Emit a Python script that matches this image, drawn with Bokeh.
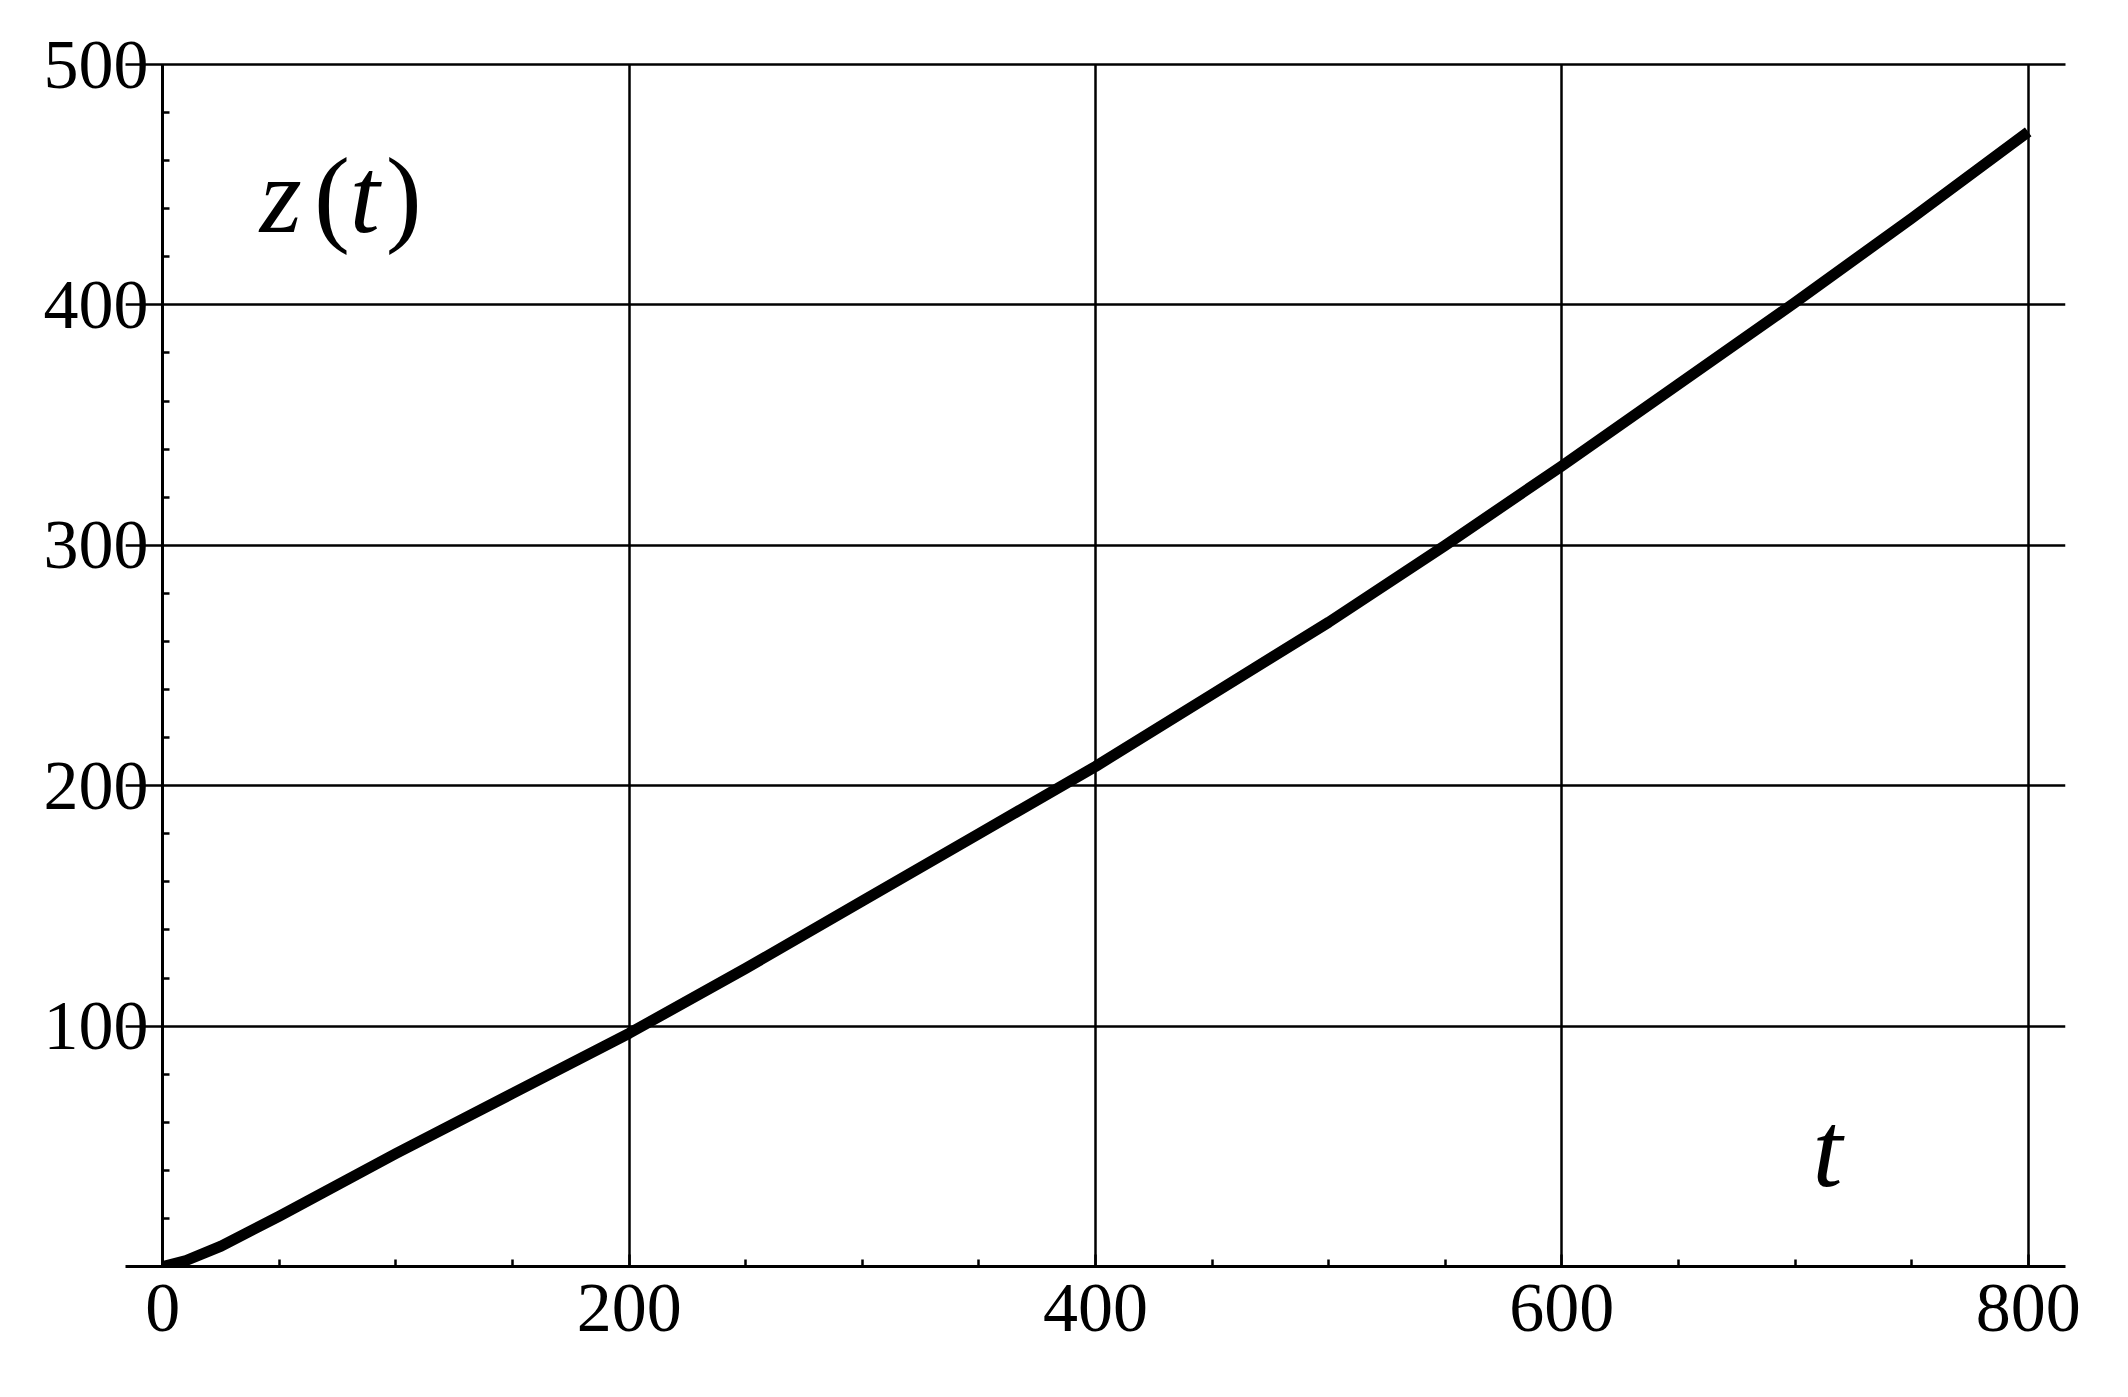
from bokeh.plotting import figure
from bokeh.models import FixedTicker, Label, ColumnDataSource, LinearAxis
from bokeh.embed import file_html
from bokeh.resources import INLINE

# ---- data ----
t_values = [0, 10, 25, 50, 100, 150, 200, 250, 300, 350, 400, 450, 500, 550, 600, 650, 700, 750, 800]
z_values = [0, 2.5, 8.5, 21, 47, 72, 97, 124, 152, 180, 208, 238, 268, 300, 333, 367, 401, 436, 472]

x_major_ticks = [0, 200, 400, 600, 800]
x_minor_ticks = [50, 100, 150, 250, 300, 350, 450, 500, 550, 650, 700, 750]
y_major_ticks = [100, 200, 300, 400, 500]
y_minor_ticks = [20, 40, 60, 80, 120, 140, 160, 180, 220, 240, 260, 280,
                 320, 340, 360, 380, 420, 440, 460, 480]

FONT = "Liberation Serif"
TICK_FS = "70px"

p = figure(
    frame_width=1940, frame_height=1202,
    min_border_left=125, min_border_right=50,
    min_border_top=64, min_border_bottom=120,
    x_range=(-16, 816), y_range=(0, 500),
    output_backend="svg", toolbar_location=None,
    background_fill_color="white", border_fill_color="white",
)
p.outline_line_color = None


def style_ticks(ax):
    ax.axis_line_color = "black"
    ax.axis_line_width = 3
    ax.major_tick_line_color = "black"
    ax.minor_tick_line_color = "black"
    ax.major_tick_line_width = 2.5
    ax.minor_tick_line_width = 2.5
    ax.major_tick_in = 12
    ax.major_tick_out = 0
    ax.minor_tick_in = 7
    ax.minor_tick_out = 0


# x axis (bottom of frame is z = 0)
xax = p.xaxis[0]
style_ticks(xax)
xax.ticker = FixedTicker(ticks=x_major_ticks, minor_ticks=x_minor_ticks)
xax.major_label_text_font = FONT
xax.major_label_text_font_size = TICK_FS
xax.major_label_text_color = "black"
xax.major_label_standoff = 18

# default left axis: labels only, placed just left of the t = 0 line
ylab = p.yaxis[0]
ylab.ticker = FixedTicker(ticks=y_major_ticks)
ylab.axis_line_color = None
ylab.major_tick_line_color = None
ylab.minor_tick_line_color = None
ylab.major_tick_in = 0
ylab.major_tick_out = 0
ylab.minor_tick_in = 0
ylab.minor_tick_out = 0
ylab.major_label_text_font = FONT
ylab.major_label_text_font_size = TICK_FS
ylab.major_label_text_color = "black"
ylab.major_label_standoff = -23

# y axis line and minor ticks drawn at t = 0 (major marks are the grid lines)
yax = LinearAxis(fixed_location=0,
                 ticker=FixedTicker(ticks=[], minor_ticks=y_minor_ticks),
                 major_label_standoff=0)
style_ticks(yax)
p.add_layout(yax, "left")

# top line at z = 500 (full width)
top = LinearAxis(ticker=FixedTicker(ticks=[]),
                 major_tick_in=0, major_tick_out=0, minor_tick_in=0, minor_tick_out=0,
                 axis_line_color="black", axis_line_width=2.5, major_label_standoff=0)
p.add_layout(top, "above")

# grid
p.xgrid.ticker = FixedTicker(ticks=x_major_ticks[1:])
p.ygrid.ticker = FixedTicker(ticks=y_major_ticks)
for g in (p.xgrid[0], p.ygrid[0]):
    g.grid_line_color = "black"
    g.grid_line_width = 2.5
    g.grid_line_alpha = 1.0

src = ColumnDataSource(data=dict(t=t_values, z=z_values))
p.line("t", "z", source=src, line_color="black", line_width=11,
       line_join="round", line_cap="butt")

# labels z(t) and t
parts = [("z", 41.6, "italic"), ("(", 64.8, "normal"), ("t", 80.2, "italic"), (")", 95.6, "normal")]
for txt, xx, style in parts:
    p.add_layout(Label(x=xx, y=445.3, text=txt, text_font=FONT, text_font_size="108px",
                       text_font_style=style, text_color="black",
                       text_align="left", text_baseline="alphabetic"))
p.add_layout(Label(x=707.5, y=48.6, text="t", text_font=FONT, text_font_size="108px",
                   text_font_style="italic", text_color="black",
                   text_align="left", text_baseline="alphabetic"))

open("out.html", "w").write(file_html(p, INLINE))
